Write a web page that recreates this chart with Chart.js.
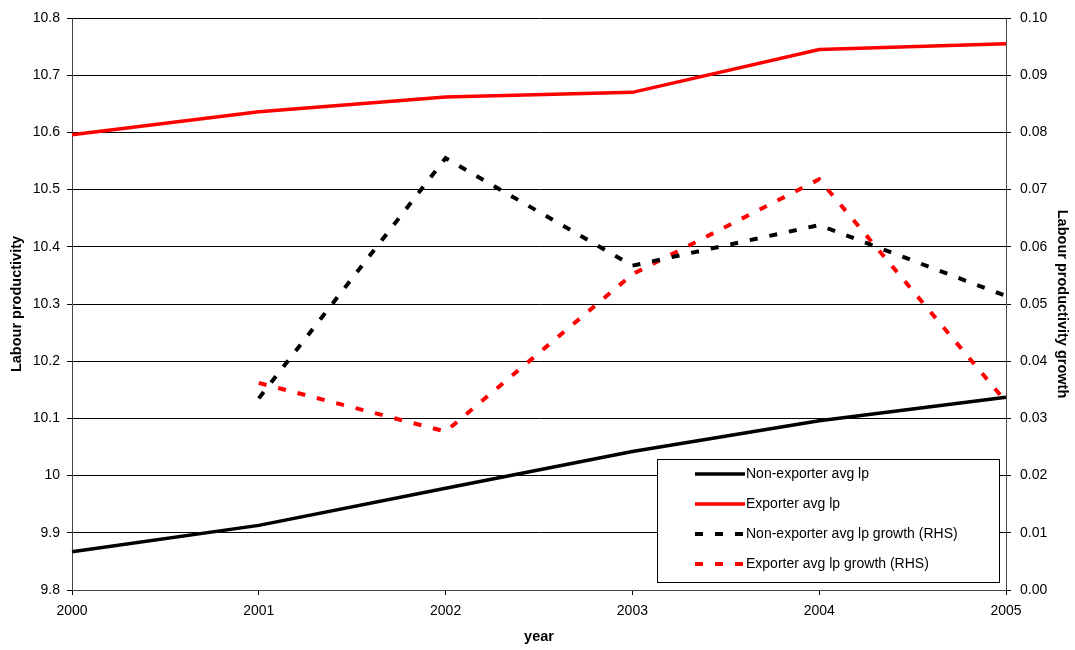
<!DOCTYPE html>
<html>
<head>
<meta charset="utf-8">
<script src="https://cdn.jsdelivr.net/npm/chart.js@4/dist/chart.umd.min.js"></script>
<style>
  html, body { margin: 0; padding: 0; background: #fff; }
  #wrap { width: 1075px; height: 650px; position: relative; }
</style>
</head>
<body>
<div id="wrap"><canvas id="chart"></canvas></div>
<script>
const YEARS = ['2000', '2001', '2002', '2003', '2004', '2005'];

const nonExporterLp = [9.867, 9.913, 9.978, 10.042, 10.096, 10.137];
const exporterLp = [10.596, 10.636, 10.662, 10.670, 10.745, 10.755];
const nonExporterGrowth = [null, 0.0335, 0.0755, 0.0567, 0.0638, 0.0514];
const exporterGrowth = [null, 0.0362, 0.0277, 0.0552, 0.0718, 0.0329];

const FONT = 'Arial, "Liberation Sans", sans-serif';

// legend box drawn inside the plot, Excel style
const boxLegend = {
  id: 'boxLegend',
  afterDraw(chart) {
    const ctx = chart.ctx;
    const x = 657, y = 459, w = 342, h = 123;
    ctx.save();
    ctx.fillStyle = '#fff';
    ctx.fillRect(x, y, w, h);
    ctx.strokeStyle = '#000';
    ctx.lineWidth = 1;
    ctx.strokeRect(x + 0.5, y + 0.5, w, h);
    ctx.font = '14px ' + FONT;
    ctx.textBaseline = 'middle';
    chart.data.datasets.forEach((ds, i) => {
      const ly = y + 15 + i * 30;
      ctx.beginPath();
      ctx.strokeStyle = ds.borderColor;
      ctx.lineWidth = ds.borderWidth;
      ctx.setLineDash(ds.borderDash || []);
      ctx.moveTo(695, ly);
      ctx.lineTo(745, ly);
      ctx.stroke();
      ctx.setLineDash([]);
      ctx.fillStyle = '#000';
      ctx.fillText(ds.label, 746, ly);
    });
    ctx.restore();
  },
};

new Chart(document.getElementById('chart'), {
  type: 'line',
  data: {
    labels: YEARS,
    datasets: [
      {
        label: 'Non-exporter avg lp',
        data: nonExporterLp,
        borderColor: '#000',
        borderWidth: 3.5,
        yAxisID: 'y',
      },
      {
        label: 'Exporter avg lp',
        data: exporterLp,
        borderColor: '#ff0000',
        borderWidth: 3.5,
        yAxisID: 'y',
      },
      {
        label: 'Non-exporter avg lp growth (RHS)',
        data: nonExporterGrowth,
        borderColor: '#000',
        borderWidth: 4,
        borderDash: [8, 12],
        yAxisID: 'y1',
      },
      {
        label: 'Exporter avg lp growth (RHS)',
        data: exporterGrowth,
        borderColor: '#ff0000',
        borderWidth: 4,
        borderDash: [8, 12],
        yAxisID: 'y1',
      },
    ],
  },
  options: {
    responsive: true,
    maintainAspectRatio: false,
    animation: false,
    layout: { padding: { top: 18, bottom: 0, left: 0, right: 0 } },
    elements: {
      point: { radius: 0 },
      line: { tension: 0, borderCapStyle: 'butt', fill: false },
    },
    plugins: {
      legend: { display: false },
      tooltip: { enabled: false },
    },
    scales: {
      x: {
        offset: false,
        grid: { drawOnChartArea: false, drawTicks: true, tickLength: 5, color: '#000' },
        border: { color: '#444', width: 1 },
        ticks: { color: '#000', font: { family: FONT, size: 14 }, padding: 8, maxRotation: 0 },
        title: { display: true, text: 'year', color: '#000', font: { family: FONT, size: 14.5, weight: 'bold' }, padding: { top: 4, bottom: 4 } },
        afterFit: (s) => { s.height = 60; },
      },
      y: {
        position: 'left',
        min: 9.8,
        max: 10.8,
        ticks: {
          stepSize: 0.1,
          color: '#000',
          font: { family: FONT, size: 14 },
          padding: 7,
          callback: (v) => String(Math.round(v * 10) / 10),
        },
        grid: { color: '#000', lineWidth: 1, tickLength: 5 },
        border: { color: '#444', width: 1 },
        title: { display: true, text: 'Labour productivity', color: '#000', font: { family: FONT, size: 14.5, weight: 'bold' }, padding: { top: 8, bottom: 4 } },
        afterFit: (s) => { s.width = 72; },
      },
      y1: {
        position: 'right',
        min: 0,
        max: 0.1,
        ticks: {
          stepSize: 0.01,
          color: '#000',
          font: { family: FONT, size: 14 },
          padding: 9,
          callback: (v) => v.toFixed(2),
        },
        grid: { drawOnChartArea: false, tickLength: 5, color: '#000' },
        border: { color: '#444', width: 1 },
        title: { display: true, text: 'Labour productivity growth', color: '#000', font: { family: FONT, size: 14.5, weight: 'bold' }, padding: { top: 4, bottom: 4 } },
        afterFit: (s) => { s.width = 69; },
      },
    },
  },
  plugins: [boxLegend],
});
</script>
</body>
</html>
